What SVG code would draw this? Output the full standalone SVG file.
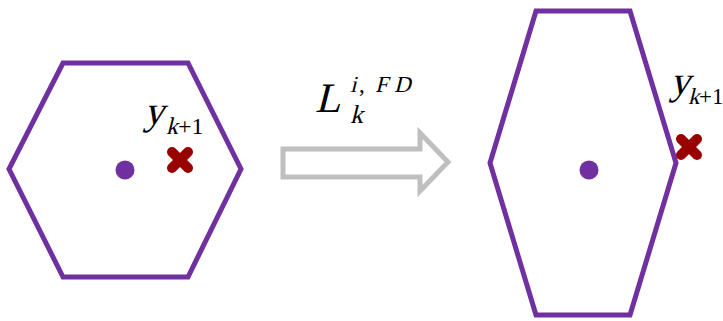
<svg xmlns="http://www.w3.org/2000/svg" width="723" height="321" viewBox="0 0 723 321">
<defs>
<style>
.hex{fill:none;stroke:#7030A0;stroke-width:5;stroke-linejoin:miter}
.dot{fill:#7030A0}
.x{stroke:#990000;stroke-width:10;stroke-linecap:round}
.arrow{fill:none;stroke:#BFBFBF;stroke-width:5;stroke-linejoin:miter}
text{fill:#000;font-family:"Liberation Serif","Times New Roman","DejaVu Serif",serif}
</style>
<g id="cross">
<line class="x" x1="-8" y1="-8" x2="8" y2="8"/>
<line class="x" x1="-8" y1="8" x2="8" y2="-8"/>
</g>
</defs>
<g id="hex-left">
<polygon class="hex" points="63,63 188,63 241,169 188,277 63,277 9,169"/>
<circle class="dot" cx="125" cy="170" r="9.5"/>
<use href="#cross" x="180" y="160"/>
<text transform="translate(144,124) skewX(-14)" font-size="40">y</text>
<text transform="translate(166,134) skewX(-14)" font-size="24">k</text>
<text x="178" y="134" font-size="24">+1</text>
</g>
<g id="connectors">
<polygon class="arrow" points="283,149 420,149 420,133 448,162 420,191 420,177 283,177"/>
<text transform="translate(315,112) skewX(-14)" font-size="42">L</text>
<text transform="translate(350,92) skewX(-14)" font-size="23">i</text>
<text x="359" y="92" font-size="23">,</text>
<text transform="translate(375,92) skewX(-14)" font-size="23">F</text>
<text transform="translate(394,92) skewX(-14)" font-size="23">D</text>
<text transform="translate(350,123) skewX(-14)" font-size="26">k</text>
</g>
<g id="hex-right">
<polygon class="hex" points="536,11 630,11 676,163 630,315 536,315 490,163"/>
<circle class="dot" cx="589" cy="170" r="9.5"/>
<use href="#cross" x="689" y="147"/>
<text transform="translate(670,94) skewX(-14)" font-size="40">y</text>
<text transform="translate(688,104) skewX(-14)" font-size="23">k</text>
<text x="699" y="104" font-size="23">+1</text>
</g>
</svg>
